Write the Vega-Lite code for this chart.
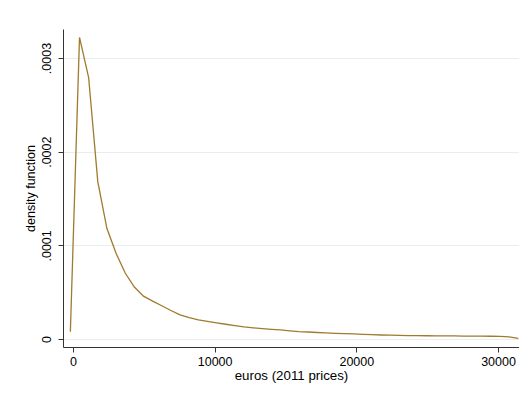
{
  "$schema": "https://vega.github.io/schema/vega-lite/v6.json",
  "width": 456,
  "height": 318,
  "autosize": {"type": "none"},
  "padding": {"left": 63, "top": 29, "right": 0, "bottom": 46},
  "background": "white",
  "config": {
    "view": {"stroke": null},
    "font": "Liberation Sans",
    "axis": {
      "labelFont": "Liberation Sans",
      "titleFont": "Liberation Sans",
      "labelFontSize": 12.5,
      "titleFontSize": 12.5,
      "titleFontWeight": "normal",
      "labelColor": "#000000",
      "titleColor": "#000000",
      "domainColor": "#333333",
      "tickColor": "#333333",
      "tickSize": 5,
      "gridColor": "#e6eff0",
      "gridWidth": 1
    }
  },
  "data": {
    "values": [
      {"x": -180, "d": 0.0000078},
      {"x": 465, "d": 0.000322},
      {"x": 1110, "d": 0.000279},
      {"x": 1755, "d": 0.000168},
      {"x": 2400, "d": 0.000118},
      {"x": 3045, "d": 0.0000915},
      {"x": 3690, "d": 0.0000705},
      {"x": 4335, "d": 0.0000555},
      {"x": 4980, "d": 0.0000458},
      {"x": 5625, "d": 0.0000405},
      {"x": 6270, "d": 0.0000355},
      {"x": 6915, "d": 0.0000305},
      {"x": 7560, "d": 0.0000258},
      {"x": 8205, "d": 0.0000228},
      {"x": 8850, "d": 0.0000205},
      {"x": 9495, "d": 0.0000188},
      {"x": 10140, "d": 0.0000172},
      {"x": 10785, "d": 0.0000158},
      {"x": 11430, "d": 0.0000143},
      {"x": 12075, "d": 0.000013},
      {"x": 12720, "d": 0.000012},
      {"x": 13365, "d": 0.0000112},
      {"x": 14010, "d": 0.0000104},
      {"x": 14655, "d": 0.0000098},
      {"x": 15300, "d": 0.0000088},
      {"x": 15945, "d": 0.000008},
      {"x": 16590, "d": 0.0000075},
      {"x": 17235, "d": 0.000007},
      {"x": 17880, "d": 0.0000065},
      {"x": 18525, "d": 0.0000061},
      {"x": 19170, "d": 0.0000058},
      {"x": 19815, "d": 0.0000055},
      {"x": 20460, "d": 0.000005},
      {"x": 21105, "d": 0.0000047},
      {"x": 21750, "d": 0.0000043},
      {"x": 22395, "d": 0.0000041},
      {"x": 23040, "d": 0.0000039},
      {"x": 23685, "d": 0.0000037},
      {"x": 24330, "d": 0.0000036},
      {"x": 24975, "d": 0.0000035},
      {"x": 25620, "d": 0.0000034},
      {"x": 26265, "d": 0.0000033},
      {"x": 26910, "d": 0.0000033},
      {"x": 27555, "d": 0.0000032},
      {"x": 28200, "d": 0.0000032},
      {"x": 28845, "d": 0.0000031},
      {"x": 29490, "d": 0.000003},
      {"x": 30135, "d": 0.0000029},
      {"x": 30780, "d": 0.0000024},
      {"x": 31425, "d": 0.0000006}
    ]
  },
  "mark": {"type": "line", "color": "#a07a2e", "strokeWidth": 1.3, "clip": true},
  "encoding": {
    "x": {
      "field": "x",
      "type": "quantitative",
      "scale": {"domain": [-700, 31480], "nice": false, "zero": false},
      "axis": {
        "values": [0, 10000, 20000, 30000],
        "format": "d",
        "grid": false,
        "title": "euros (2011 prices)",
        "titleFontSize": 13.3,
        "labelPadding": 3,
        "titlePadding": 1
      }
    },
    "y": {
      "field": "d",
      "type": "quantitative",
      "scale": {"domain": [-0.0000085, 0.000331], "nice": false, "zero": false},
      "axis": {
        "values": [0, 0.0001, 0.0002, 0.0003],
        "labelExpr": "datum.value == 0 ? '0' : replace(format(datum.value, '.4f'), /^0/, '')",
        "labelAngle": 270,
        "labelAlign": "center",
        "labelBaseline": "bottom",
        "labelPadding": 5,
        "grid": true,
        "title": "density function",
        "titlePadding": 3
      }
    }
  }
}
